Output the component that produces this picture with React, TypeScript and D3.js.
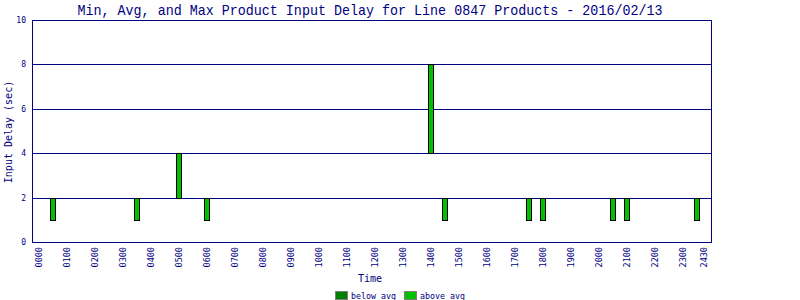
import React from "react";
import * as d3 from "d3";

const tickHours = [0, 1, 2, 3, 4, 5, 6, 7, 8, 9, 10, 11, 12, 13, 14, 15, 16, 17, 18, 19, 20, 21, 22, 23, 23.75];
const tickLabels = ["0000", "0100", "0200", "0300", "0400", "0500", "0600", "0700", "0800", "0900", "1000", "1100", "1200", "1300", "1400", "1500", "1600", "1700", "1800", "1900", "2000", "2100", "2200", "2300", "2430"];
const yTicks = [0, 2, 4, 6, 8, 10];

const barHours = [0.5, 3.5, 5.0, 6.0, 14.0, 14.5, 17.5, 18.0, 20.5, 21.0, 23.5];
const minDelay = [1, 1, 2, 1, 4, 1, 1, 1, 1, 1, 1];
const avgDelay = [1, 1, 2, 1, 4, 1, 1, 1, 1, 1, 1];
const maxDelay = [2, 2, 4, 2, 8, 2, 2, 2, 2, 2, 2];

const legendLabels = ["below avg", "above avg"];
const legendColors = ["#008000", "#00c000"];

const NAVY = "#000080";
const MONO = "'DejaVu Sans Mono', 'Liberation Mono', monospace";

export default function App() {
  const W = 800, H = 300;
  const left = 32, right = 711, top = 20, bottom = 242;
  const x = d3.scaleLinear().domain([-0.25, 24]).range([left, right]);
  const y = d3.scaleLinear().domain([0, 10]).range([bottom, top]);
  const bw = 6;

  return (
    <svg width={W} height={H} style={{ position: "absolute", left: 0, top: 0, background: "#fff" }} shapeRendering="crispEdges">
      <rect x={0} y={0} width={W} height={H} fill="#fff" />
      <text x={370} y={15} textAnchor="middle" fontFamily="'Liberation Mono', monospace" fontSize={15} fill={NAVY} textLength={585} lengthAdjust="spacingAndGlyphs">
        Min, Avg, and Max Product Input Delay for Line 0847 Products - 2016/02/13
      </text>
      {yTicks.filter(v => v > 0 && v < 10).map(v => (
        <line key={"g" + v} x1={left} x2={right} y1={Math.round(y(v)) + 0.5} y2={Math.round(y(v)) + 0.5} stroke={NAVY} strokeWidth={1} />
      ))}
      <rect x={left + 0.5} y={top + 0.5} width={right - left} height={bottom - top} fill="none" stroke={NAVY} strokeWidth={1} />
      {yTicks.map(v => (
        <text key={"y" + v} x={left - 6} y={y(v) + 3} textAnchor="end" fontFamily={MONO} fontSize={8} fill={NAVY}>{v}</text>
      ))}
      {tickHours.map((h, i) => (
        <text key={"x" + i} transform={`translate(${x(h) + 3},${bottom + 5}) rotate(-90)`} textAnchor="end" fontFamily={MONO} fontSize={8.5} fill={NAVY}>{tickLabels[i]}</text>
      ))}
      <text transform={`translate(12,132) rotate(-90)`} textAnchor="middle" fontFamily={MONO} fontSize={10} fill={NAVY}>Input Delay (sec)</text>
      <text x={370} y={282} textAnchor="middle" fontFamily={MONO} fontSize={10} fill={NAVY}>Time</text>
      {barHours.map((h, i) => {
        const cx = Math.round(x(h));
        const segs = [];
        if (avgDelay[i] > minDelay[i]) {
          segs.push(<rect key="b" x={cx - bw / 2 + 0.5} y={Math.round(y(avgDelay[i])) + 0.5} width={bw - 1} height={Math.round(y(minDelay[i])) - Math.round(y(avgDelay[i]))} fill={legendColors[0]} stroke="#000" strokeWidth={1} />);
        }
        if (maxDelay[i] > avgDelay[i]) {
          segs.push(<rect key="a" x={cx - bw / 2 + 0.5} y={Math.round(y(maxDelay[i])) + 0.5} width={bw - 1} height={Math.round(y(avgDelay[i])) - Math.round(y(maxDelay[i]))} fill={legendColors[1]} stroke="#000" strokeWidth={1} />);
        }
        return <g key={"bar" + i}>{segs}</g>;
      })}
      {legendLabels.map((l, i) => (
        <g key={"l" + i} transform={`translate(${335 + i * 69},291)`}>
          <rect x={0.5} y={0.5} width={12} height={8} fill={legendColors[i]} stroke="#808080" strokeWidth={1} />
          <text x={16} y={7.5} fontFamily={MONO} fontSize={8.3} fill={NAVY}>{l}</text>
        </g>
      ))}
    </svg>
  );
}
